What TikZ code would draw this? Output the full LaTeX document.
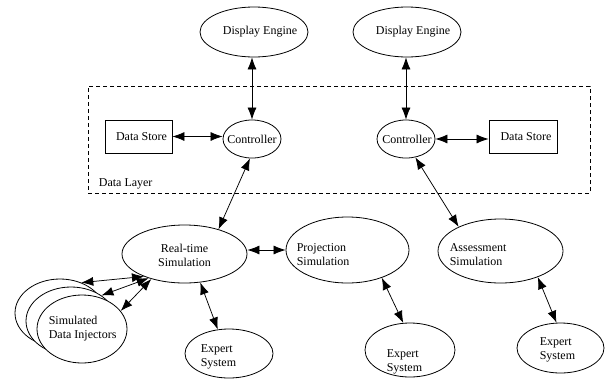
\documentclass[tikz,border=0pt]{standalone}
\usepackage{fontspec}
\setmainfont{Liberation Serif}
\usetikzlibrary{shapes.geometric,arrows.meta}

\begin{document}
\begin{tikzpicture}[x=1pt,y=-1pt,
        blob/.style={draw,ellipse,line width=0.8pt,inner sep=0pt,fill=white},
        box/.style={draw,rectangle,line width=0.8pt,inner sep=0pt},
        link/.style={<->,>={Latex[length=12pt,width=9pt]},line width=0.75pt},
        txt/.style={inner sep=0pt,align=left,font=\fontsize{12}{14}\selectfont}]
        \useasboundingbox (0,0) rectangle (605,381);

        \node[draw,dashed,dash pattern=on 4pt off 3pt,line width=0.7pt,minimum width=502pt,minimum height=107pt,inner sep=0pt] (layerbox) at (339,139.5) {};
        \node[txt,anchor=west] (layer) at ([xshift=11pt,yshift=9pt]layerbox.south west) {Data Layer};

        \node[blob,minimum width=108pt,minimum height=50pt] (dispA) at (254,32) {};
        \node[blob,minimum width=108pt,minimum height=50pt] (dispB) at (407,32) {};
        \node[txt] (dispAt) at ([xshift=6pt]dispA.center) {Display Engine};
        \node[txt] (dispBt) at ([xshift=6pt]dispB.center) {Display Engine};

        \node[blob,minimum width=58pt,minimum height=38pt] (ctrlA) at (252,139) {};
        \node[blob,minimum width=58pt,minimum height=38pt] (ctrlB) at (406,139) {};
        \node[txt] (ctrlAt) at (ctrlA.center) {Controller};
        \node[txt] (ctrlBt) at ([xshift=1pt]ctrlB.center) {Controller};

        \node[box,minimum width=67pt,minimum height=33pt] (storeA) at (138.5,136.5) {};
        \node[box,minimum width=68pt,minimum height=33pt] (storeB) at (523,136.5) {};
        \node[txt] (storeAt) at ([xshift=3pt]storeA.center) {Data Store};
        \node[txt] (storeBt) at ([xshift=3pt]storeB.center) {Data Store};

        \node[blob,minimum width=125pt,minimum height=58pt] (rts) at (184.5,254) {};
        \node[blob,minimum width=123pt,minimum height=66pt] (proj) at (347.5,250) {};
        \node[blob,minimum width=125pt,minimum height=64pt] (assess) at (500.5,251) {};
        \node[txt,align=center] (rtst) at ([yshift=-1pt]rts.center) {Real-time\\Simulation};
        \node[txt,anchor=west] (projt) at ([xshift=11pt,yshift=-5pt]proj.west) {Projection\\Simulation};
        \node[txt,anchor=west] (assesst) at ([xshift=12pt,yshift=-4pt]assess.west) {Assessment\\Simulation};

        \node[blob,minimum width=88pt,minimum height=49pt] (expA) at (229,353.5) {};
        \node[blob,minimum width=90pt,minimum height=54pt] (expB) at (410,350) {};
        \node[blob,minimum width=87pt,minimum height=50pt] (expC) at (560.5,348) {};
        \node[txt,anchor=west] (expAt) at ([xshift=16pt,yshift=-3pt]expA.west) {Expert\\System};
        \node[txt,anchor=west] (expBt) at ([xshift=22pt,yshift=-12pt]expB.west) {Expert\\System};
        \node[txt,anchor=west] (expCt) at ([xshift=23pt,yshift=-2pt]expC.west) {Expert\\System};

        \node[blob,minimum width=90pt,minimum height=68pt] (injC) at (60,313) {};
        \node[blob,minimum width=90pt,minimum height=68pt] (injB) at (71,321) {};
        \node[blob,minimum width=90pt,minimum height=68pt] (injA) at (82,329) {};
        \node[txt,anchor=west] (injt) at ([xshift=12pt]injA.west) {Simulated\\Data Injectors};

        \draw[link] (dispA.south -| ctrlA.north) -- (ctrlA.north);
        \draw[link] (dispB.south -| ctrlB.north) -- (ctrlB.north);
        \draw[link] (storeA.east) -- (storeA.east -| ctrlA.west);
        \draw[link] (ctrlB.east) -- (ctrlB.east -| storeB.west);
        \draw[link] (ctrlA.-96) -- (rts.36);
        \draw[link] (ctrlB.-63) -- (assess.150);
        \draw[link] (rts.east |- proj.west) -- (proj.west);
        \draw[link] (rts.-61) -- (expA.115);
        \draw[link] (proj.-39) -- (expB.104);
        \draw[link] (assess.-35) -- (expC.99);
        \draw[link] (rts.-151) -- (injC.55);
        \draw[link] (rts.-146) -- (injB.40);
        \draw[link] (rts.-143) -- (injA.25);
    \end{tikzpicture}
\end{document}
